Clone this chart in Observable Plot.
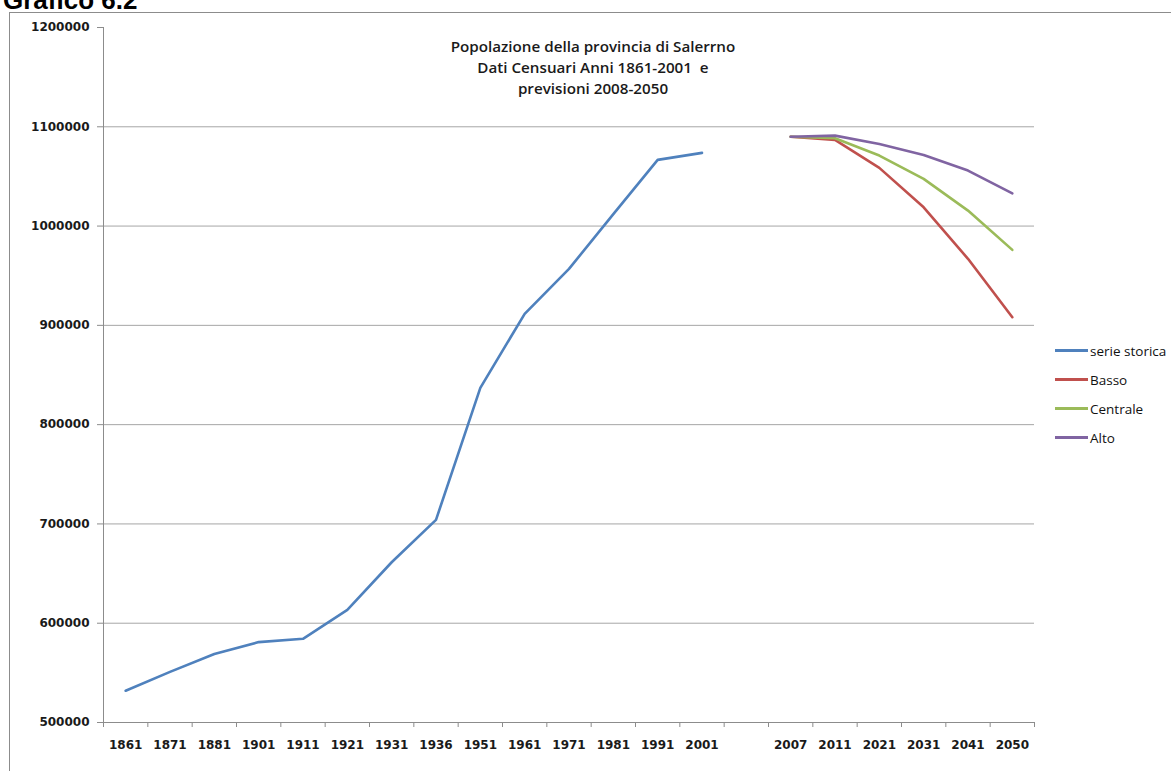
<!DOCTYPE html>
<html>
<head>
<meta charset="utf-8">
<script src="https://cdn.jsdelivr.net/npm/d3@7"></script>
<script src="https://cdn.jsdelivr.net/npm/@observablehq/plot@0.6"></script>
<style>
  html, body { margin: 0; padding: 0; background: #fff; overflow: hidden; }
  #wrap { position: relative; width: 1171px; height: 771px; overflow: hidden; }
  #frame { position: absolute; left: 9px; top: 12px; width: 2000px; height: 2000px;
           border-left: 1px solid #8c8c8c; border-top: 1px solid #8c8c8c; }
  #fig { position: absolute; left: 0; top: 0; }
  #grafico { position: absolute; left: 3px; top: -15px; font: bold 26px "Liberation Sans", Arial, sans-serif; color: #000; }
  #title { position: absolute; left: 413px; top: 36px; width: 360px; text-align: center;
           font: 600 15.2px "Open Sans", sans-serif; line-height: 21px; color: #1a1a1a; }
  #legend { position: absolute; left: 1055px; top: 336px; font: 13.5px "Open Sans", sans-serif; color: #111; }
  .item { display: flex; align-items: center; height: 29px; }
  .sw { width: 33px; height: 3px; margin-right: 2px; }
</style>
</head>
<body>
<div id="wrap">
  <div id="frame"></div>
  <div id="fig"></div>
  <div id="grafico">Grafico 6.2</div>
  <div id="title">Popolazione della provincia di Salerrno<br>Dati Censuari Anni 1861-2001&nbsp; e<br>previsioni 2008-2050</div>
  <div id="legend"></div>
</div>
<script>
// Category labels (one blank slot between the census and the forecasts)
const years = ["1861","1871","1881","1901","1911","1921","1931","1936","1951","1961","1971","1981","1991","2001","","2007","2011","2021","2031","2041","2050"];
const historicYears = ["1861","1871","1881","1901","1911","1921","1931","1936","1951","1961","1971","1981","1991","2001"];
const forecastYears = ["2007","2011","2021","2031","2041","2050"];

// Series values
const serieStorica = [532000, 551000, 569000, 581000, 584300, 613500, 661400, 704100, 837100, 911600, 956900, 1012000, 1066700, 1073700];
const basso    = [1090000, 1086800, 1058600, 1018900, 967000, 908200];
const centrale = [1090000, 1088400, 1071000, 1047500, 1015600, 976000];
const alto     = [1090000, 1091100, 1082700, 1071600, 1055900, 1033000];

const yTicks = [500000, 600000, 700000, 800000, 900000, 1000000, 1100000, 1200000];
const gridTicks = [600000, 700000, 800000, 900000, 1000000, 1100000];

const seriesNames = ["serie storica", "Basso", "Centrale", "Alto"];
const seriesColors = ["#4F81BD", "#C0504D", "#9BBB59", "#8064A2"];

const idx = y => years.indexOf(y);
const hist = historicYears.map((y, k) => ({i: idx(y), v: serieStorica[k], s: seriesNames[0]}));
const proj = [];
[[basso, seriesNames[1]], [centrale, seriesNames[2]], [alto, seriesNames[3]]].forEach(([arr, name]) => {
  forecastYears.forEach((y, k) => proj.push({i: idx(y), v: arr[k], s: name}));
});

const boundaries = d3.range(years.length + 1).map(i => i - 0.5);
const centers = d3.range(years.length);

const tickFont = {fontFamily: "DejaVu Sans", fontSize: 12, fontWeight: "bold", fill: "#1a1a1a"};

const chart = Plot.plot({
  width: 1171,
  height: 771,
  marginLeft: 103,
  marginRight: 137,
  marginTop: 27,
  marginBottom: 49,
  x: {type: "linear", domain: [-0.5, years.length - 0.5]},
  y: {domain: [500000, 1200000]},
  color: {domain: seriesNames, range: seriesColors},
  marks: [
    Plot.gridY(gridTicks, {stroke: "#a6a6a6", strokeOpacity: 1}),
    Plot.frame({anchor: "left", stroke: "#8c8c8c"}),
    Plot.frame({anchor: "bottom", stroke: "#8c8c8c"}),
    Plot.axisY(yTicks, {tickSize: 6, tickPadding: 8, stroke: "#8c8c8c", tickFormat: d => String(d), label: null, ...tickFont}),
    Plot.axisX(boundaries, {tickSize: 5, stroke: "#8c8c8c", tickFormat: () => "", label: null}),
    Plot.axisX(centers, {tickSize: 0, tickPadding: 18, tickFormat: i => years[i], label: null, ...tickFont}),
    Plot.line(hist, {x: "i", y: "v", stroke: "s", strokeWidth: 2.6}),
    Plot.line(proj, {x: "i", y: "v", z: "s", stroke: "s", strokeWidth: 2.6})
  ]
});
document.getElementById("fig").appendChild(chart);

const legend = document.getElementById("legend");
seriesNames.forEach((n, k) => {
  const row = document.createElement("div");
  row.className = "item";
  const sw = document.createElement("span");
  sw.className = "sw";
  sw.style.background = seriesColors[k];
  const t = document.createElement("span");
  t.textContent = n;
  row.appendChild(sw);
  row.appendChild(t);
  legend.appendChild(row);
});
</script>
</body>
</html>
